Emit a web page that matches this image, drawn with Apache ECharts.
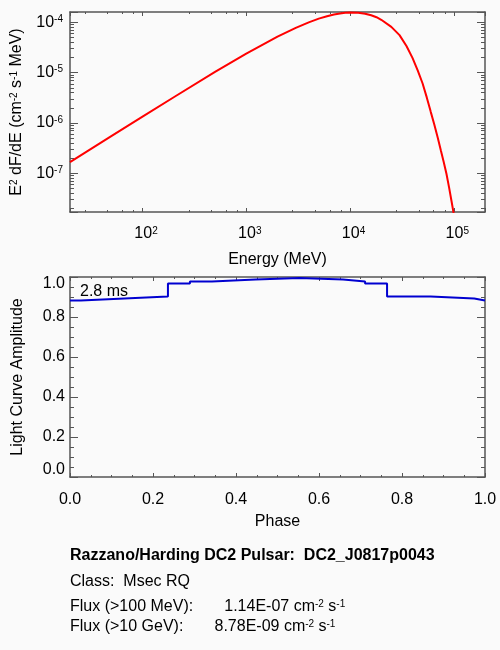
<!DOCTYPE html>
<html>
<head>
<meta charset="utf-8">
<script src="https://cdn.jsdelivr.net/npm/echarts@6/dist/echarts.min.js"></script>
<style>
html, body { margin: 0; padding: 0; background: #fafafa; }
#chart { width: 500px; height: 650px; }
</style>
</head>
<body>
<div id="chart"></div>
<script>
// spectrum, E^2 dF/dE vs energy
const energyMeV = [20, 50, 100, 200, 500, 1000, 2000, 3000, 4000, 5000, 6000, 7000, 8000, 9000,
    10000, 12000, 14000, 16000, 18000, 20000, 25000, 30000, 35000, 40000, 45000, 50000, 55000,
    60000, 65000, 70000, 75000, 80000, 85000, 90000, 95000, 100000, 105000];
const e2dfde = [1.66e-7, 5.45e-7, 1.33e-6, 3.24e-6, 1.03e-5, 2.38e-5, 5.19e-5, 7.76e-5, 9.98e-5, 1.18e-4,
    1.32e-4, 1.43e-4, 1.50e-4, 1.55e-4, 1.57e-4, 1.55e-4, 1.48e-4, 1.38e-4, 1.26e-4, 1.12e-4, 8.11e-5,
    5.56e-5, 3.38e-5, 1.96e-5, 1.09e-5, 6.15e-6, 3.18e-6, 1.66e-6, 9.2e-7, 5.16e-7, 2.87e-7, 1.67e-7,
    9.8e-8, 5.3e-8, 2.84e-8, 1.55e-8, 8.3e-9];

// light curve, one value per phase bin (bin starts)
const phaseEdges = [0, 0.026, 0.131, 0.236, 0.289, 0.342, 0.447, 0.553, 0.658, 0.711, 0.764, 0.869, 0.974, 1.0];
const amplitude = [0.883, 0.893, 0.903, 0.967, 0.978, 0.987, 0.995, 0.987, 0.978, 0.967, 0.903, 0.893, 0.883, 0.883];

const periodText = '2.8 ms';
const pulsarName = 'DC2_J0817p0043';
const pulsarClass = 'Msec RQ';
const flux100MeV = '1.14E-07';
const flux10GeV = '8.78E-09';

const fontFamily = '"Liberation Sans", Arial, Helvetica, sans-serif';
const axisColor = '#555';
const supStyle = { fontSize: 10, verticalAlign: 'top', lineHeight: 8 };

function powLabel(v) {
    var e = Math.log10(v);
    if (Math.abs(e - Math.round(e)) > 1e-6) return '';
    return '10{sup|' + Math.round(e) + '}';
}

function ampLabel(v) {
    if (Math.abs(v - 1) < 1e-9) return '{lo|1.0}';
    if (Math.abs(v) < 1e-9) return '{hi|0.0}';
    return v.toFixed(1);
}

// one side of a plot box; labels only on bottom/left
function frameAxis(base, pos, tickLen, minorSplit, showLabel) {
    return Object.assign({
        position: pos,
        axisLine: { show: true, onZero: false, lineStyle: { color: axisColor, width: 1.5 } },
        axisTick: { show: true, inside: true, length: tickLen, lineStyle: { color: axisColor, width: 1 } },
        minorTick: { show: true, splitNumber: minorSplit, length: tickLen / 2, lineStyle: { color: axisColor, width: 1 } },
        splitLine: { show: false },
        minorSplitLine: { show: false },
        axisLabel: { show: showLabel, color: '#000', fontSize: 16, fontFamily: fontFamily, margin: 10 }
    }, base);
}

const specX = { gridIndex: 0, type: 'log', logBase: 10, min: 20, max: 2e5 };
const specY = { gridIndex: 0, type: 'log', logBase: 10, min: 1.7e-8, max: 1.6e-4 };
const lcX = { gridIndex: 1, type: 'value', min: 0, max: 1, interval: 0.2 };
const lcY = { gridIndex: 1, type: 'value', min: 0, max: 1, interval: 0.2 };

var xBottomSpec = frameAxis(specX, 'bottom', 4, 5, true);
xBottomSpec.axisLabel.formatter = powLabel;
xBottomSpec.axisLabel.rich = { sup: supStyle };
xBottomSpec.axisLabel.margin = 14;
xBottomSpec.axisLabel.padding = [0, 0, 0, 7];
xBottomSpec.name = 'Energy (MeV)';
xBottomSpec.nameLocation = 'middle';
xBottomSpec.nameGap = 40;
xBottomSpec.nameTextStyle = { color: '#000', fontSize: 16, fontFamily: fontFamily };

var yLeftSpec = frameAxis(specY, 'left', 8, 9, true);
yLeftSpec.axisLabel.formatter = powLabel;
yLeftSpec.axisLabel.rich = { sup: supStyle };
yLeftSpec.axisLabel.margin = 7;
yLeftSpec.name = 'E{sup|2} dF/dE (cm{sup|-2} s{sup|-1} MeV)';
yLeftSpec.nameLocation = 'middle';
yLeftSpec.nameGap = 45;
yLeftSpec.nameTextStyle = { color: '#000', fontSize: 16, fontFamily: fontFamily, rich: { sup: supStyle } };

var xBottomLc = frameAxis(lcX, 'bottom', 4, 4, true);
xBottomLc.axisLabel.formatter = function (v) { return v.toFixed(1); };
xBottomLc.axisLabel.margin = 15;
xBottomLc.name = 'Phase';
xBottomLc.nameLocation = 'middle';
xBottomLc.nameGap = 37;
xBottomLc.nameTextStyle = { color: '#000', fontSize: 16, fontFamily: fontFamily };

var yLeftLc = frameAxis(lcY, 'left', 8, 4, true);
yLeftLc.axisLabel.formatter = ampLabel;
yLeftLc.axisLabel.rich = { lo: { padding: [14, 0, 0, 0] }, hi: { padding: [0, 0, 14, 0] } };
yLeftLc.axisLabel.margin = 5;
yLeftLc.name = 'Light Curve Amplitude';
yLeftLc.nameLocation = 'middle';
yLeftLc.nameGap = 44;
yLeftLc.nameTextStyle = { color: '#000', fontSize: 16, fontFamily: fontFamily };

var specData = energyMeV.map(function (e, i) { return [e, e2dfde[i]]; });
var lcData = phaseEdges.map(function (p, i) { return [p, amplitude[i]]; });

function infoText(y, text, bold) {
    return {
        type: 'text', x: 70, y: y,
        style: {
            text: text, fill: '#000',
            font: (bold ? 'bold ' : '') + '16px ' + fontFamily,
            verticalAlign: 'middle', textVerticalAlign: 'middle',
            rich: { sup: { fontSize: 10, verticalAlign: 'top', lineHeight: 2, fontFamily: fontFamily } }
        }
    };
}

var chart = echarts.init(document.getElementById('chart'), null, { renderer: 'canvas' });
chart.setOption({
    backgroundColor: '#fafafa',
    animation: false,
    textStyle: { fontFamily: fontFamily },
    grid: [
        { left: 70, top: 12, width: 415, height: 200 },
        { left: 70, top: 277, width: 415, height: 200 }
    ],
    xAxis: [
        xBottomSpec,
        frameAxis(specX, 'top', 4, 5, false),
        xBottomLc,
        frameAxis(lcX, 'top', 4, 4, false)
    ],
    yAxis: [
        yLeftSpec,
        frameAxis(specY, 'right', 8, 9, false),
        yLeftLc,
        frameAxis(lcY, 'right', 8, 4, false)
    ],
    series: [
        {
            type: 'line', xAxisIndex: 0, yAxisIndex: 0,
            data: specData, showSymbol: false, smooth: false, clip: true,
            lineStyle: { color: '#ff0000', width: 2 }
        },
        {
            type: 'line', xAxisIndex: 2, yAxisIndex: 2,
            data: lcData, step: 'end', showSymbol: false, clip: true,
            lineStyle: { color: '#0000d0', width: 2 }
        }
    ],
    graphic: [
        { type: 'text', x: 80, y: 292, style: { text: periodText, fill: '#000', font: '16px ' + fontFamily, verticalAlign: 'middle', textVerticalAlign: 'middle' } },
        infoText(556, 'Razzano/Harding DC2 Pulsar:  ' + pulsarName, true),
        infoText(582, 'Class:  ' + pulsarClass),
        infoText(607, 'Flux (>100 MeV):       ' + flux100MeV + ' cm{sup|-2} s{sup|-1}'),
        infoText(627, 'Flux (>10 GeV):       ' + flux10GeV + ' cm{sup|-2} s{sup|-1}')
    ]
});
</script>
</body>
</html>
